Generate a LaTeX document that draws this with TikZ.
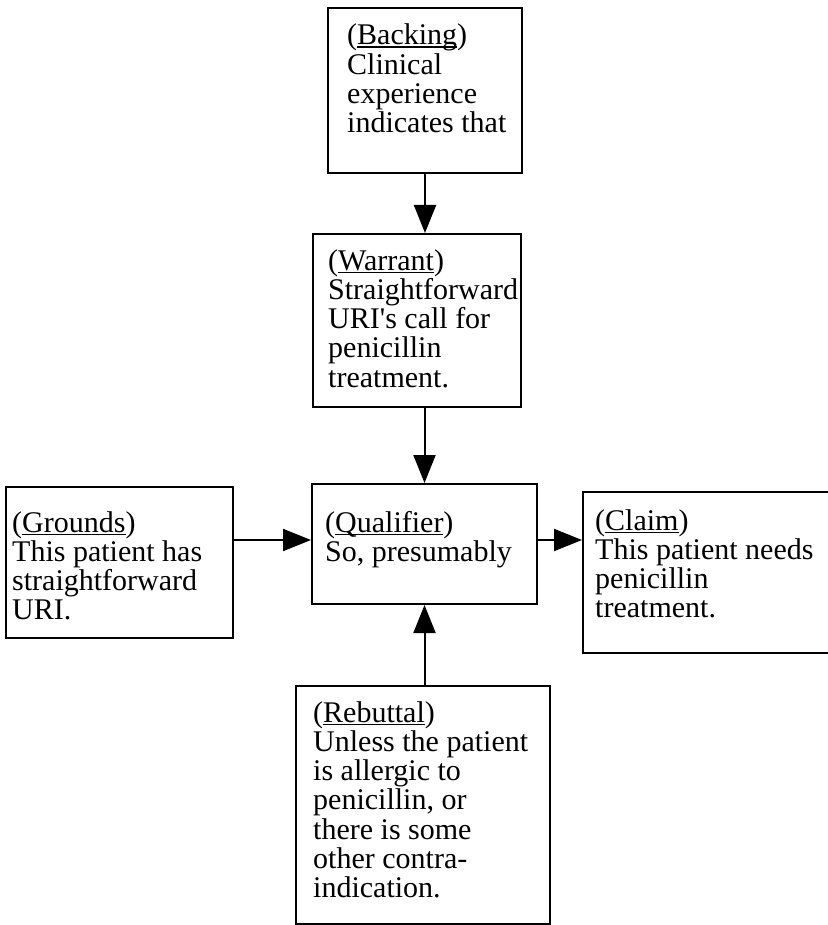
\documentclass[tikz,border=0pt]{standalone}
\usepackage{fontspec}
\setmainfont{Liberation Serif}
\usetikzlibrary{arrows.meta}

% underlined role label with a rule just below the baseline
\newcommand\rolelabel[1]{\setbox0\hbox{#1}\rlap{\rule[-2.8pt]{\wd0}{1.3pt}}\box0}
% multi-line text block whose baseline is that of its first line
\newcommand\textblock[1]{\parbox[t]{300pt}{\raggedright\fontsize{30pt}{29.3pt}\selectfont #1}}

\begin{document}
\begin{tikzpicture}[x=1pt, y=-1pt,
  box/.style={draw, line width=2pt, inner sep=0pt, anchor=north west},
  txt/.style={inner sep=0pt, anchor=base west},
  arr/.style={line width=2pt, -{Triangle[length=28pt,width=22pt]}}]
  \useasboundingbox (0,0) rectangle (827,925);

  % frames
  \node[box, minimum width=194pt, minimum height=165pt] (backing)   at (327,7)   {};
  \node[box, minimum width=208pt, minimum height=173pt] (warrant)   at (312,233) {};
  \node[box, minimum width=227pt, minimum height=151pt] (grounds)   at (5,486)   {};
  \node[box, minimum width=225pt, minimum height=120pt] (qualifier) at (311,483) {};
  \node[box, minimum width=262pt, minimum height=161pt] (claim)     at (582,491) {};
  \node[box, minimum width=254pt, minimum height=238pt] (rebuttal)  at (295,685) {};

  % texts
  \node[txt] (backingtext) at (347,45) {\textblock{(\rolelabel{Backing})\\Clinical\\experience\\indicates that}};
  \node[txt] (warranttext) at (328,270) {\textblock{(\rolelabel{Warrant})\\Straightforward\\URI\textquotesingle s call for\\penicillin\\treatment.}};
  \node[txt] (groundstext) at (12,532) {\textblock{(\rolelabel{Grounds})\\This patient has\\straightforward\\URI.}};
  \node[txt] (qualifiertext) at (325,532) {\textblock{(\rolelabel{Qualifier})\\So, presumably}};
  \node[txt] (claimtext) at (595,530) {\textblock{(\rolelabel{Claim})\\This patient needs\\penicillin\\treatment.}};
  \node[txt] (rebuttaltext) at (313,722) {\textblock{(\rolelabel{Rebuttal})\\Unless the patient\\is allergic to\\penicillin, or\\there is some\\other contra-\\indication.}};

  % connectors
  \coordinate (qin)  at ([yshift=4pt]qualifier.west);
  \coordinate (qout) at ([yshift=4pt]qualifier.east);
  \draw[arr] (backing.south) -- (backing.south |- warrant.north);
  \draw[arr] (qualifier.north |- warrant.south) -- (qualifier.north);
  \draw[arr] (qualifier.south |- rebuttal.north) -- (qualifier.south);
  \draw[arr] (grounds.east |- qin) -- (qin);
  \draw[arr] (qout) -- (qout -| claim.west);
\end{tikzpicture}
\end{document}
